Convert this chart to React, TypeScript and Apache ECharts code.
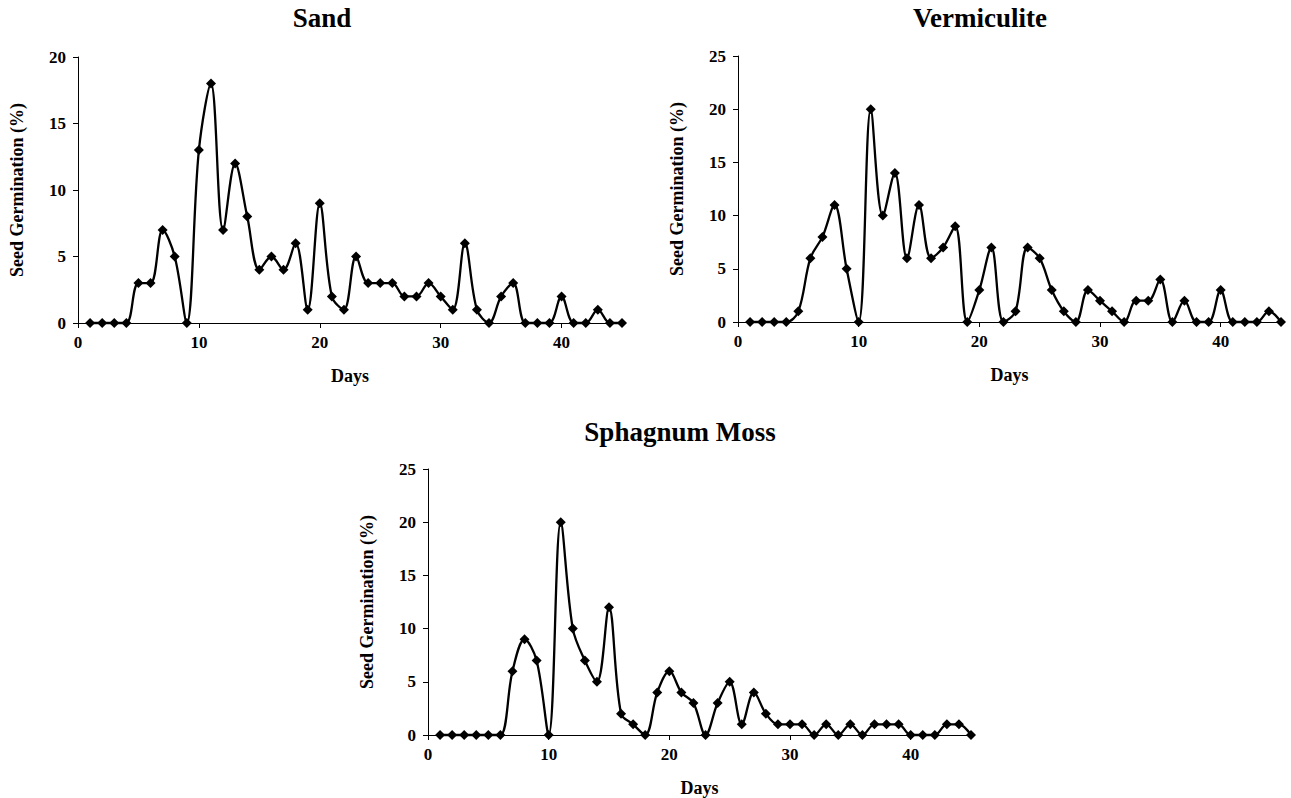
import React, { useEffect, useRef } from "react";
import * as echarts from "echarts";

const days = [1, 2, 3, 4, 5, 6, 7, 8, 9, 10, 11, 12, 13, 14, 15, 16, 17, 18, 19, 20, 21, 22, 23, 24, 25, 26, 27, 28, 29, 30, 31, 32, 33, 34, 35, 36, 37, 38, 39, 40, 41, 42, 43, 44, 45];

const sand = [0, 0, 0, 0, 3, 3, 7, 5, 0, 13, 18, 7, 12, 8, 4, 5, 4, 6, 1, 9, 2, 1, 5, 3, 3, 3, 2, 2, 3, 2, 1, 6, 1, 0, 2, 3, 0, 0, 0, 2, 0, 0, 1, 0, 0];
const vermiculite = [0, 0, 0, 0, 1, 6, 8, 11, 5, 0, 20, 10, 14, 6, 11, 6, 7, 9, 0, 3, 7, 0, 1, 7, 6, 3, 1, 0, 3, 2, 1, 0, 2, 2, 4, 0, 2, 0, 0, 3, 0, 0, 0, 1, 0];
const sphagnum = [0, 0, 0, 0, 0, 0, 6, 9, 7, 0, 20, 10, 7, 5, 12, 2, 1, 0, 4, 6, 4, 3, 0, 3, 5, 1, 4, 2, 1, 1, 1, 0, 1, 0, 1, 0, 1, 1, 1, 0, 0, 0, 1, 1, 0];

const titles = ["Sand", "Vermiculite", "Sphagnum Moss"];
const xTickValues = [0, 10, 20, 30, 40];
const yMaxes = [20, 25, 25];
const xAxisName = "Days";
const yAxisName = "Seed Germination (%)";

const FONT = '"Liberation Serif", "Times New Roman", serif';

export default function App() {
  const ref = useRef<HTMLDivElement>(null);
  useEffect(() => {
    document.body.style.margin = "0";
    const chart = echarts.init(ref.current!, null, { renderer: "svg" });
    const grids = [
      { left: 78, top: 57, width: 544, height: 266 },
      { left: 738, top: 56, width: 543, height: 266 },
      { left: 428, top: 469, width: 543, height: 266 },
    ];
    const seriesData = [sand, vermiculite, sphagnum];
    const titlePos = [
      { x: 322, y: 4 },
      { x: 980, y: 4 },
      { x: 680, y: 418 },
    ];
    const labelStyle = {
      color: "#000",
      fontFamily: FONT,
      fontWeight: "bold" as const,
      fontSize: 17,
    };
    const option: any = {
      animation: false,
      backgroundColor: "#fff",
      grid: grids.map((g) => ({ ...g, containLabel: false })),
      xAxis: grids.map((_, i) => ({
        type: "value",
        gridIndex: i,
        min: 0,
        max: 45,
        interval: 10,
        name: xAxisName,
        nameLocation: "middle",
        nameGap: 44,
        nameTextStyle: { ...labelStyle, fontSize: 18 },
        axisLine: { show: true, onZero: false, lineStyle: { color: "#000", width: 1 } },
        axisTick: { show: true, inside: false, length: 5, lineStyle: { color: "#000" }, customValues: xTickValues },
        axisLabel: { ...labelStyle, margin: 11, customValues: xTickValues },
        splitLine: { show: false },
      })),
      yAxis: grids.map((_, i) => ({
        type: "value",
        gridIndex: i,
        min: 0,
        max: yMaxes[i],
        interval: 5,
        name: yAxisName,
        nameLocation: "middle",
        nameGap: 52,
        nameTextStyle: { ...labelStyle, fontSize: 18 },
        axisLine: { show: true, lineStyle: { color: "#000", width: 1 } },
        axisTick: { show: true, inside: false, length: 5, lineStyle: { color: "#000" } },
        axisLabel: { ...labelStyle, margin: 12 },
        splitLine: { show: false },
      })),
      series: seriesData.map((vals, i) => ({
        type: "line",
        xAxisIndex: i,
        yAxisIndex: i,
        data: days.map((d, k) => [d, vals[k]]),
        smooth: 0.35,
        symbol: "diamond",
        symbolSize: 10,
        showSymbol: true,
        lineStyle: { color: "#000", width: 2.3 },
        itemStyle: { color: "#000" },
        clip: false,
      })),
      graphic: titles.map((t, i) => ({
        type: "text",
        x: titlePos[i].x,
        y: titlePos[i].y,
        style: {
          text: t,
          textAlign: "center",
          textVerticalAlign: "top",
          font: `bold 27px ${FONT}`,
          fill: "#000",
        },
      })),
    };
    chart.setOption(option);
    return () => chart.dispose();
  }, []);
  return <div ref={ref} style={{ width: 1291, height: 798 }} />;
}
